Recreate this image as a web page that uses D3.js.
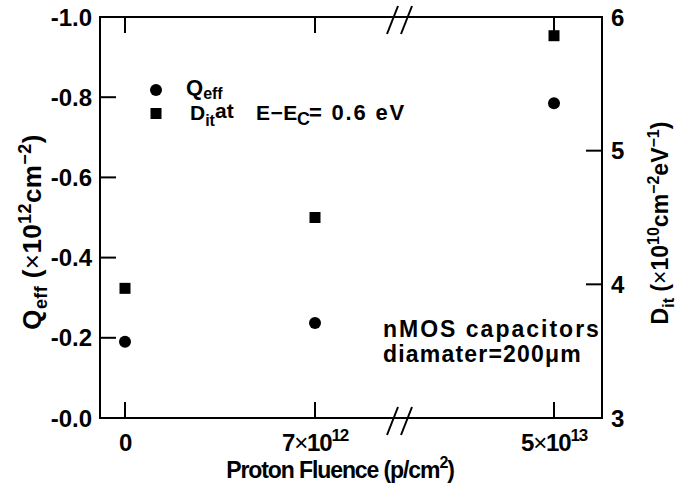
<!DOCTYPE html>
<html>
<head>
<meta charset="utf-8">
<script src="https://cdn.jsdelivr.net/npm/d3@7"></script>
<style>
  html, body { margin: 0; padding: 0; background: #fff; }
  svg { display: block; }
  text { font-family: "Liberation Sans", Arial, Helvetica, sans-serif; font-weight: bold; fill: #000; }
</style>
</head>
<body>
<svg id="chart" width="679" height="491"></svg>
<script>
// Proton fluence (p/cm^2) at which the capacitors were measured
const fluence = [0, 7e12, 5e13];
// Tick labels for the fluence axis: mantissa, power of ten
const fluenceLabels = [
  { base: "0", exp: null },
  { base: "7", exp: "12" },
  { base: "5", exp: "13" }
];
// Effective oxide charge, 10^12 cm^-2
const qeff = [-0.19, -0.237, -0.785];
// Interface trap density at E-Ec = 0.6 eV, 10^10 cm^-2 eV^-1
const dit = [3.97, 4.50, 5.86];
// Axis ticks
const qTicks = [0, -0.2, -0.4, -0.6, -0.8, -1.0];
const ditTicks = [3, 4, 5, 6];

const svg = d3.select("#chart");
const L = 100, R = 602, T = 17, B = 418;
const tickLen = 16;

// Broken fluence axis: piecewise linear across the break
const x = d3.scaleLinear().domain(fluence).range([125, 315, 554]);
const yQ = d3.scaleLinear().domain([0, -1]).range([B, T]);
const yD = d3.scaleLinear().domain([3, 6]).range([B, T]);

// Frame
svg.append("rect")
  .attr("x", L).attr("y", T).attr("width", R - L).attr("height", B - T)
  .attr("fill", "none").attr("stroke", "#000").attr("stroke-width", 2);

// Inner ticks
const ticks = svg.append("g").attr("stroke", "#000").attr("stroke-width", 2);
fluence.forEach(v => {
  ticks.append("line").attr("x1", x(v)).attr("x2", x(v)).attr("y1", B).attr("y2", B - tickLen);
  ticks.append("line").attr("x1", x(v)).attr("x2", x(v)).attr("y1", T).attr("y2", T + tickLen);
});
qTicks.filter(v => v !== 0 && v !== -1.0).forEach(v => {
  ticks.append("line").attr("x1", L).attr("x2", L + tickLen).attr("y1", yQ(v)).attr("y2", yQ(v));
});
ditTicks.filter(v => v !== 3 && v !== 6).forEach(v => {
  ticks.append("line").attr("x1", R).attr("x2", R - tickLen).attr("y1", yD(v)).attr("y2", yD(v));
});

// Axis break marks on top and bottom edges
const breakX = 400;
[T, B].forEach(yy => {
  [-7, 7].forEach(off => {
    svg.append("line")
      .attr("x1", breakX + off - 6).attr("y1", yy + 17)
      .attr("x2", breakX + off + 5).attr("y2", yy - 11)
      .attr("stroke", "#000").attr("stroke-width", 2);
  });
});

// Left tick labels
svg.append("g").selectAll("text").data(qTicks).join("text")
  .attr("x", L - 8).attr("y", d => yQ(d)).attr("dy", "0.36em")
  .attr("text-anchor", "end").style("font-size", "24px")
  .text(d => "-" + d3.format(".1f")(Math.abs(d)));

// Right tick labels
svg.append("g").selectAll("text").data(ditTicks).join("text")
  .attr("x", R + 9).attr("y", d => yD(d)).attr("dy", "0.36em")
  .attr("text-anchor", "start").style("font-size", "24px")
  .text(d => d);

// Bottom tick labels with superscripts (tightly set)
fluenceLabels.forEach((lab, i) => {
  const t = svg.append("text")
    .attr("x", x(fluence[i])).attr("y", 451)
    .attr("text-anchor", "middle").style("font-size", "24px")
    .style("letter-spacing", "-1.2px");
  if (lab.exp === null) {
    t.text(lab.base);
  } else {
    t.append("tspan").text(lab.base);
    t.append("tspan").style("font-weight", "normal").text("×");
    t.append("tspan").text("10");
    t.append("tspan").attr("dy", -10).style("font-size", "17px").text(lab.exp);
  }
});

// X title
const xt = svg.append("text")
  .attr("x", 340).attr("y", 478)
  .attr("text-anchor", "middle").style("font-size", "23px")
  .style("letter-spacing", "-1.1px");
xt.append("tspan").text("Proton Fluence (p/cm");
xt.append("tspan").attr("dy", -10).style("font-size", "16px").text("2");
xt.append("tspan").attr("dy", 10).text(")");

// Left title
const yl = svg.append("text")
  .attr("transform", "translate(41,232) rotate(-90)")
  .attr("text-anchor", "middle").style("font-size", "26px")
  .style("letter-spacing", "0.4px");
yl.append("tspan").text("Q");
yl.append("tspan").attr("dy", 6).style("font-size", "18px").text("eff");
yl.append("tspan").attr("dy", -6).text(" (");
yl.append("tspan").style("font-weight", "normal").text("×");
yl.append("tspan").text("10");
yl.append("tspan").attr("dy", -10).style("font-size", "18px").text("12");
yl.append("tspan").attr("dy", 10).text("cm");
yl.append("tspan").attr("dy", -10).style("font-size", "18px").text("−2");
yl.append("tspan").attr("dy", 10).text(")");

// Right title
const yr = svg.append("text")
  .attr("transform", "translate(668,223) rotate(-90)")
  .attr("text-anchor", "middle").style("font-size", "23px");
yr.append("tspan").text("D");
yr.append("tspan").attr("dy", 6).style("font-size", "16px").text("it");
yr.append("tspan").attr("dy", -6).text(" (");
yr.append("tspan").style("font-weight", "normal").text("×");
yr.append("tspan").text("10");
yr.append("tspan").attr("dy", -9).style("font-size", "16px").text("10");
yr.append("tspan").attr("dy", 9).text("cm");
yr.append("tspan").attr("dy", -9).style("font-size", "16px").text("−2");
yr.append("tspan").attr("dy", 9).text("eV");
yr.append("tspan").attr("dy", -9).style("font-size", "16px").text("−1");
yr.append("tspan").attr("dy", 9).text(")");

// Data marks
const sq = 11;
svg.append("g").selectAll("rect").data(dit).join("rect")
  .attr("x", (d, i) => x(fluence[i]) - sq / 2)
  .attr("y", d => yD(d) - sq / 2)
  .attr("width", sq).attr("height", sq).attr("fill", "#000");
svg.append("g").selectAll("circle").data(qeff).join("circle")
  .attr("cx", (d, i) => x(fluence[i]))
  .attr("cy", d => yQ(d))
  .attr("r", 6).attr("fill", "#000");

// Legend
svg.append("circle").attr("cx", 156).attr("cy", 90).attr("r", 6).attr("fill", "#000");
svg.append("rect").attr("x", 150.5).attr("y", 108).attr("width", sq).attr("height", sq).attr("fill", "#000");
const l1 = svg.append("text").attr("x", 186).attr("y", 95).style("font-size", "22px");
l1.append("tspan").text("Q");
l1.append("tspan").attr("dy", 4).style("font-size", "16px").text("eff");
const l2 = svg.append("text").attr("x", 190).attr("y", 120).style("font-size", "21px");
l2.append("tspan").text("D");
l2.append("tspan").attr("dy", 6).style("font-size", "16px").text("it");
l2.append("tspan").attr("x", 215).attr("dy", -8).text("at");
l2.append("tspan").attr("x", 256).attr("dy", 2).style("letter-spacing", "0.5px").text("E−E");
l2.append("tspan").attr("x", 297).attr("dy", 5).style("font-size", "18px").text("C");
l2.append("tspan").attr("x", 309).attr("dy", -5).style("font-size", "22px")
  .style("letter-spacing", "1.8px").text("= 0.6 eV");

// Annotation
svg.append("text").attr("x", 383).attr("y", 337).style("font-size", "23px")
  .style("letter-spacing", "2px").text("nMOS capacitors");
svg.append("text").attr("x", 383).attr("y", 362).style("font-size", "23px")
  .style("letter-spacing", "1.2px").text("diamater=200μm");
</script>
</body>
</html>
